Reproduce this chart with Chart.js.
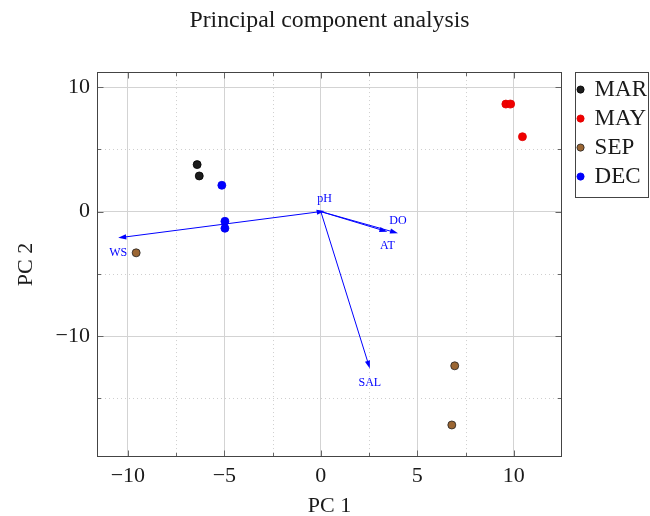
<!DOCTYPE html>
<html>
<head>
<meta charset="utf-8">
<script src="https://cdn.jsdelivr.net/npm/chart.js@4.4.1/dist/chart.umd.min.js"></script>
<style>
  html, body { margin: 0; padding: 0; background: #fff; }
  #wrap { width: 650px; height: 516px; position: relative; }
</style>
</head>
<body>
<div id="wrap"><canvas id="pca"></canvas></div>
<script>
// ── Scores (PC 1, PC 2) per month ──
const marX = [-6.41, -6.3];
const marY = [3.77, 2.86];
const mayX = [9.59, 9.84, 10.45];
const mayY = [8.63, 8.63, 6.01];
const sepX = [-9.57, 6.94, 6.79];
const sepY = [-3.31, -12.38, -17.13];
const decX = [-5.13, -4.97, -4.97];
const decY = [2.11, -0.78, -1.34];

// ── Loadings, drawn as arrows from the origin ──
const loadNames = ["pH", "DO", "AT", "SAL", "WS"];
const loadX = [0.2, 4.0, 3.45, 2.54, -10.5];
const loadY = [0.05, -1.74, -1.62, -12.6, -2.11];
const loadSide = ["above", "above", "below", "below", "below"];

// ── Axis ticks ──
const xTicks = [-10, -5, 0, 5, 10];
const xMinor = [-7.5, -2.5, 2.5, 7.5];
const yTicks = [-10, 0, 10];
const yMinor = [-15, -5, 5];

const SERIF = "'Liberation Serif', 'Times New Roman', serif";
const INK = "#1a1a1a";
const BLUE = "#0000ff";

Chart.defaults.font.family = SERIF;
Chart.defaults.color = INK;

const pts = (xs, ys) => xs.map((x, i) => ({ x, y: ys[i] }));
const fmt = (v) => (v < 0 ? "\u2212" + Math.abs(v) : String(v));

function seg(ctx, x0, y0, x1, y1) {
  ctx.beginPath();
  ctx.moveTo(x0, y0);
  ctx.lineTo(x1, y1);
  ctx.stroke();
}

// minor dotted grid + loading arrows, under the points
const biplot = {
  id: "biplot",
  beforeDatasetsDraw(chart) {
    const { ctx, chartArea: a, scales: { x, y } } = chart;
    ctx.save();
    ctx.strokeStyle = "#cfcfcf";
    ctx.lineWidth = 1;
    ctx.setLineDash([1, 3]);
    xMinor.forEach((v) => {
      const px = Math.round(x.getPixelForValue(v)) + 0.5;
      seg(ctx, px, a.top, px, a.bottom);
    });
    yMinor.forEach((v) => {
      const py = Math.round(y.getPixelForValue(v)) + 0.5;
      seg(ctx, a.left, py, a.right, py);
    });
    ctx.setLineDash([]);

    const x0 = x.getPixelForValue(0);
    const y0 = y.getPixelForValue(0);
    ctx.strokeStyle = BLUE;
    ctx.fillStyle = BLUE;
    ctx.lineWidth = 1;
    ctx.font = "12px " + SERIF;
    ctx.textAlign = "center";
    ctx.textBaseline = "middle";
    loadNames.forEach((name, i) => {
      const x1 = x.getPixelForValue(loadX[i]);
      const y1 = y.getPixelForValue(loadY[i]);
      const ang = Math.atan2(y1 - y0, x1 - x0);
      const c = Math.cos(ang), s = Math.sin(ang);
      const len = 8, half = 2.6;
      seg(ctx, x0, y0, x1 - c * len * 0.6, y1 - s * len * 0.6);
      ctx.beginPath();
      ctx.moveTo(x1, y1);
      ctx.lineTo(x1 - c * len + s * half, y1 - s * len - c * half);
      ctx.lineTo(x1 - c * len - s * half, y1 - s * len + c * half);
      ctx.closePath();
      ctx.fill();
      const dy = loadSide[i] === "above" ? -12.5 : 14.5;
      ctx.fillText(name, x1, y1 + dy);
    });
    ctx.restore();
  },
  afterDraw(chart) {
    const { ctx, chartArea: a, scales: { x, y } } = chart;
    const L = Math.round(a.left) + 0.5, R = Math.round(a.right) - 0.5;
    const T = Math.round(a.top) + 0.5, B = Math.round(a.bottom) - 0.5;
    ctx.save();
    ctx.lineWidth = 1;
    ctx.strokeStyle = "#666";
    const tickX = (v, len) => {
      const px = Math.round(x.getPixelForValue(v)) + 0.5;
      seg(ctx, px, B, px, B - len);
      seg(ctx, px, T, px, T + len);
    };
    const tickY = (v, len) => {
      const py = Math.round(y.getPixelForValue(v)) + 0.5;
      seg(ctx, L, py, L + len, py);
      seg(ctx, R, py, R - len, py);
    };
    xTicks.forEach((v) => tickX(v, 6));
    xMinor.forEach((v) => tickX(v, 3.5));
    yTicks.forEach((v) => tickY(v, 6));
    yMinor.forEach((v) => tickY(v, 3.5));

    ctx.strokeStyle = "#444";
    ctx.strokeRect(L, T, R - L, B - T);

    // box round the legend
    const hb = chart.legend.legendHitBoxes;
    if (hb && hb.length) {
      const last = hb[hb.length - 1];
      const l = Math.round(hb[0].left - 2.5) + 0.5;
      const r = chart.width - 1.5;
      const b = Math.round(last.top + last.height + 9) + 0.5;
      ctx.strokeRect(l, T, r - l, b - T);
    }
    ctx.restore();
  },
};

new Chart(document.getElementById("pca"), {
  type: "scatter",
  data: {
    datasets: [
      {
        label: "MAR",
        data: pts(marX, marY),
        backgroundColor: "#1c1c1c",
        borderColor: "#000",
        borderWidth: 0.8,
        pointRadius: 4,
      },
      {
        label: "MAY",
        data: pts(mayX, mayY),
        backgroundColor: "#f00000",
        borderColor: "#e00000",
        borderWidth: 0.8,
        pointRadius: 4,
      },
      {
        label: "SEP",
        data: pts(sepX, sepY),
        backgroundColor: "#9b6633",
        borderColor: "#222",
        borderWidth: 0.8,
        pointRadius: 4,
      },
      {
        label: "DEC",
        data: pts(decX, decY),
        backgroundColor: "#0000ff",
        borderColor: "#0000ee",
        borderWidth: 0.8,
        pointRadius: 4,
      },
    ],
  },
  options: {
    responsive: true,
    maintainAspectRatio: false,
    animation: false,
    layout: { padding: { top: 0, left: 0, bottom: 0, right: -7 } },
    plugins: {
      title: {
        display: true,
        text: "Principal component analysis",
        fullSize: false,
        color: INK,
        font: { family: SERIF, size: 23.8, weight: "normal", lineHeight: 1.2 },
        padding: { top: 6.5, bottom: 37 },
      },
      legend: {
        position: "right",
        align: "start",
        fullSize: false,
        labels: {
          usePointStyle: true,
          pointStyle: "circle",
          boxWidth: 5.1,
          boxHeight: 5.1,
          padding: 6,
          color: INK,
          font: { family: SERIF, size: 23 },
        },
      },
      tooltip: { enabled: false },
    },
    scales: {
      x: {
        type: "linear",
        position: "bottom",
        min: -11.6,
        max: 12.5,
        afterBuildTicks: (s) => { s.ticks = xTicks.map((v) => ({ value: v })); },
        afterFit: (s) => { s.height = 59; },
        grid: { color: "#d3d3d3", lineWidth: 1, drawTicks: false },
        border: { display: false },
        ticks: {
          padding: 6,
          color: INK,
          font: { family: SERIF, size: 22 },
          callback: (v) => fmt(v),
        },
        title: {
          display: true,
          text: "PC 1",
          color: INK,
          font: { family: SERIF, size: 22, lineHeight: 0.9 },
          padding: 0,
        },
      },
      y: {
        type: "linear",
        position: "left",
        min: -19.7,
        max: 11.2,
        afterBuildTicks: (s) => { s.ticks = yTicks.map((v) => ({ value: v })); },
        afterFit: (s) => { s.width = 97; },
        grid: { color: "#d3d3d3", lineWidth: 1, drawTicks: false },
        border: { display: false },
        ticks: {
          padding: 7,
          color: INK,
          font: { family: SERIF, size: 22 },
          callback: (v) => fmt(v),
        },
        title: {
          display: true,
          text: "PC 2",
          color: INK,
          font: { family: SERIF, size: 22, lineHeight: 1.2 },
          padding: { top: 13, bottom: 0 },
        },
      },
      // empty axis, only keeps the gap between plot and legend
      gap: {
        type: "linear",
        position: "right",
        display: true,
        afterFit: (s) => { s.width = 10; },
        grid: { display: false },
        border: { display: false },
        ticks: { display: false },
      },
    },
  },
  plugins: [biplot],
});
</script>
</body>
</html>
